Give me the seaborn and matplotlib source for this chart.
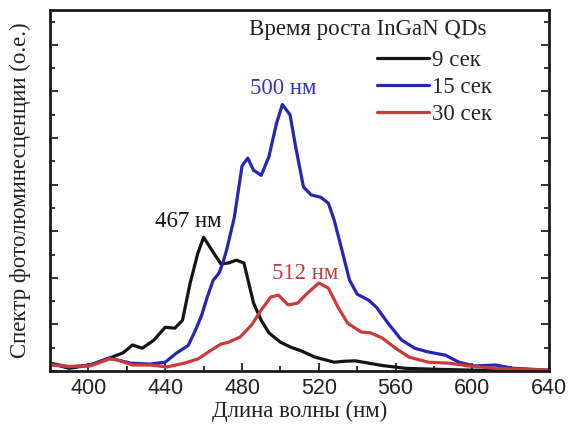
import pandas as pd
import matplotlib.pyplot as plt
import seaborn as sns
from matplotlib.ticker import MultipleLocator

# Spectra (wavelength in nm, intensity in arb. units)
wl_9 = [380, 390, 401, 411, 418, 423, 428, 434, 440, 445, 449, 453, 457, 460, 465, 469,
        473, 477, 481, 486, 490, 494, 500, 505, 511, 518, 528, 533, 539, 546, 553, 565,
        580, 600, 620, 640]
pl_9 = [0.17, 0.06, 0.13, 0.28, 0.39, 0.56, 0.49, 0.66, 0.94, 0.92, 1.09, 1.89, 2.53, 2.87,
        2.55, 2.30, 2.32, 2.38, 2.32, 1.46, 1.09, 0.82, 0.62, 0.52, 0.43, 0.30, 0.19, 0.21,
        0.22, 0.17, 0.12, 0.06, 0.04, 0.02, 0.01, 0.01]

wl_15 = [380, 390, 401, 411, 415, 422, 432, 440, 446, 452, 456, 459, 462, 465, 468, 470,
         472, 476, 480, 483, 486, 490, 494, 498, 501, 505, 508, 512, 516, 521, 525, 528,
         532, 536, 540, 546, 550, 556, 563, 570, 577, 586, 593, 601, 612, 621, 640]
pl_15 = [0.17, 0.09, 0.13, 0.28, 0.24, 0.17, 0.15, 0.19, 0.39, 0.55, 0.90, 1.20, 1.60, 1.95,
         2.10, 2.32, 2.60, 3.30, 4.40, 4.57, 4.31, 4.20, 4.60, 5.32, 5.72, 5.50, 4.80, 3.95,
         3.78, 3.73, 3.60, 3.24, 2.60, 1.95, 1.65, 1.52, 1.37, 1.03, 0.67, 0.49, 0.41, 0.34,
         0.19, 0.11, 0.13, 0.06, 0.02]

wl_30 = [380, 390, 401, 411, 415, 423, 432, 441, 450, 457, 464, 469, 473, 479, 485, 490,
         495, 499, 504, 509, 514, 520, 525, 530, 535, 542, 547, 553, 560, 567, 577, 588,
         598, 612, 640]
pl_30 = [0.13, 0.10, 0.11, 0.26, 0.24, 0.13, 0.13, 0.09, 0.17, 0.26, 0.45, 0.58, 0.62, 0.73,
         0.99, 1.31, 1.59, 1.63, 1.42, 1.46, 1.67, 1.89, 1.78, 1.37, 1.03, 0.84, 0.82, 0.71,
         0.49, 0.30, 0.19, 0.17, 0.11, 0.06, 0.02]

series_names = ['9 сек', '15 сек', '30 сек']
line_colors = ['#141414', '#2626b6', '#cc3a3a']
peak_labels = ['467 нм', '500 нм', '512 нм']
peak_label_pos = [(452, 3.2), (501.5, 6.07), (513, 2.1)]
label_colors = ['#141414', '#3434c0', '#c63c3c']

frames = []
for name, wl, pl in zip(series_names, [wl_9, wl_15, wl_30], [pl_9, pl_15, pl_30]):
    frames.append(pd.DataFrame({'wl': wl, 'pl': pl, 'series': name}))
df = pd.concat(frames, ignore_index=True)

sns.set_style('ticks')
plt.rcParams['font.family'] = ['Liberation Serif', 'DejaVu Serif']

fig = plt.figure(figsize=(5.68, 4.30), dpi=100)
ax = fig.add_axes([0.088, 0.137, 0.879, 0.840])

sns.lineplot(data=df, x='wl', y='pl', hue='series', hue_order=series_names,
             palette=line_colors, linewidth=2.3, ax=ax)
for ln in ax.get_lines():
    ln.set_solid_joinstyle('round')

ax.set_xlim(380, 640)
ax.set_ylim(0, 7.75)
ax.xaxis.set_major_locator(MultipleLocator(40))
ax.xaxis.set_minor_locator(MultipleLocator(20))
ax.yaxis.set_major_locator(MultipleLocator(1))
ax.yaxis.set_minor_locator(MultipleLocator(0.5))
ax.tick_params(which='both', direction='in', left=True, right=True, top=False,
               labelleft=False, width=1.3, color='#222222')
ax.tick_params(which='major', length=6)
ax.tick_params(which='minor', length=3.5)
for lab in ax.get_xticklabels():
    lab.set_family(['Liberation Sans', 'DejaVu Sans'])
    lab.set_fontsize(15.5)
    lab.set_color('#222222')
ax.tick_params(axis='x', pad=5)
for sp in ax.spines.values():
    sp.set_linewidth(2.0)
    sp.set_color('#1a1a1a')

ax.set_xlabel('Длина волны (нм)', fontsize=16.5, color='#222222', labelpad=1)
ax.set_ylabel('Спектр фотолюминесценции (о.е.)', fontsize=16.5, color='#222222', labelpad=14)

for txt, (x, y), c in zip(peak_labels, peak_label_pos, label_colors):
    ax.text(x, y, txt, fontsize=16.5, color=c, ha='center', va='center')

handles, labels = ax.get_legend_handles_labels()
ax.legend(handles, labels, loc='upper left', bbox_to_anchor=(0.655, 0.89),
          frameon=False, fontsize=16.5, handlelength=2.25, handletextpad=0.15,
          labelspacing=0.27, borderpad=0, borderaxespad=0)
ax.text(0.399, 0.945, 'Время роста InGaN QDs', transform=ax.transAxes,
        fontsize=16.5, color='#222222', ha='left', va='center')

fig.savefig('out.png', dpi=100)
